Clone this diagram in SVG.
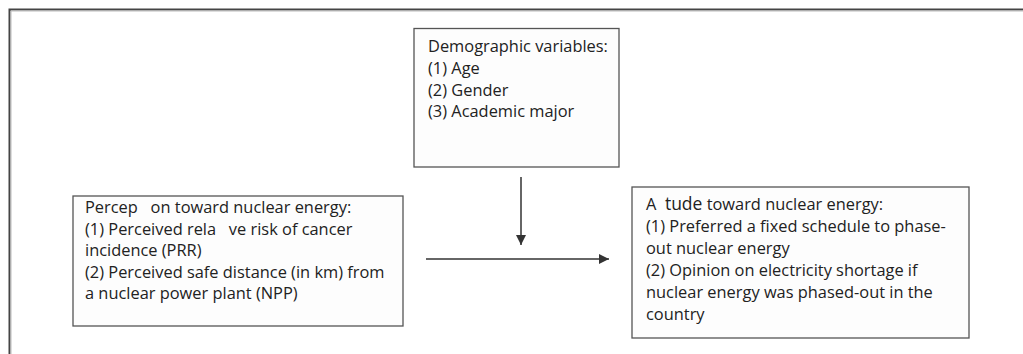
<svg xmlns="http://www.w3.org/2000/svg" width="1023" height="354" viewBox="0 0 1023 354">
<defs>
<style>
.box{fill:#fdfdfd;stroke:#555;stroke-width:1.3}
.t{font-family:"Open Sans","Noto Sans",sans-serif;font-size:16.4px;fill:#222}
.c{stroke:#333;stroke-width:1.5;fill:none}
</style>
<marker id="ah" viewBox="0 0 10 10" refX="10" refY="5" markerWidth="10" markerHeight="10" markerUnits="userSpaceOnUse" orient="auto">
<path d="M0,0 L10,5 L0,10 z" fill="#333"/>
</marker>
</defs>
<rect width="1023" height="354" fill="#fff"/>
<g id="frame">
<path d="M9.5,354 V9.5 H1023" fill="none" stroke="#444" stroke-width="2"/>
<path d="M11,354 V11 H1023" fill="none" stroke="#bbb" stroke-width="1"/>
</g>
<g id="demographic">
<rect class="box" x="414" y="28.5" width="205" height="138.5"/>
<text class="t" x="428" y="52">Demographic variables:</text>
<text class="t" x="428" y="74">(1) Age</text>
<text class="t" x="428" y="95.5">(2) Gender</text>
<text class="t" x="428" y="117">(3) Academic major</text>
</g>
<g id="perception">
<rect class="box" x="73" y="196" width="330" height="130"/>
<text class="t" x="85" y="213" xml:space="preserve">Percep   on toward nuclear energy:</text>
<text class="t" x="85" y="234.5" xml:space="preserve">(1) Perceived rela   ve risk of cancer</text>
<text class="t" x="85" y="256">incidence (PRR)</text>
<text class="t" x="85" y="277.5">(2) Perceived safe distance (in km) from</text>
<text class="t" x="85" y="299">a nuclear power plant (NPP)</text>
</g>
<g id="attitude">
<rect class="box" x="632" y="187" width="337" height="151"/>
<text class="t" x="646" y="210" xml:space="preserve">A  <tspan font-size="17.5">tude</tspan> toward nuclear energy:</text>
<text class="t" x="646" y="232">(1) Preferred a fixed schedule to phase-</text>
<text class="t" x="646" y="254">out nuclear energy</text>
<text class="t" x="646" y="276">(2) Opinion on electricity shortage if</text>
<text class="t" x="646" y="298">nuclear energy was phased-out in the</text>
<text class="t" x="646" y="320">country</text>
</g>
<g id="connectors">
<line class="c" x1="521" y1="177" x2="521" y2="245" marker-end="url(#ah)"/>
<line class="c" x1="426" y1="259" x2="609" y2="259" marker-end="url(#ah)"/>
</g>
</svg>
